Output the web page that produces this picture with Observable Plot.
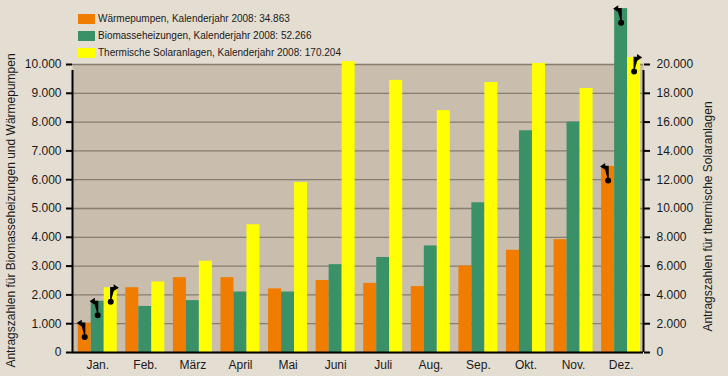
<!DOCTYPE html>
<html><head><meta charset="utf-8">
<script src="https://cdn.jsdelivr.net/npm/d3@7"></script>
<script src="https://cdn.jsdelivr.net/npm/@observablehq/plot@0.6"></script>
<style>
body{margin:0;background:#e4ddd1;font-family:"Liberation Sans",Arial,sans-serif;}
#wrap{position:relative;width:728px;height:376px;}
#legend{position:absolute;left:78px;top:10px;font-size:10px;color:#1a1a1a;z-index:2;}
.row{display:flex;align-items:center;height:17px;}
.sw{width:17px;height:10px;margin-right:3px;}
svg{display:block;}
</style></head><body><div id="wrap"><div id="legend"></div></div>
<script>
const months = ["Jan.","Feb.","März","April","Mai","Juni","Juli","Aug.","Sep.","Okt.","Nov.","Dez."];
const waermepumpen = [1020,2250,2600,2600,2210,2500,2400,2290,3000,3550,3920,6460];
const biomasse = [1780,1600,1800,2100,2100,3050,3300,3700,5200,7700,8000,11940];
const solar = [4500,4900,6340,8870,11800,20200,18900,16800,18750,20070,18330,20490];
const seriesNames = ["Wärmepumpen, Kalenderjahr 2008: 34.863","Biomasseheizungen, Kalenderjahr 2008: 52.266","Thermische Solaranlagen, Kalenderjahr 2008: 170.204"];
const colors = ["#f07d00","#3b9167","#ffff00"];
const leftTicks = d3.range(0, 10001, 1000);
const rightTicks = d3.range(0, 20001, 2000);
const leftTitle = "Antragszahlen für Biomasseheizungen und Wärmepumpen";
const rightTitle = "Antragszahlen für thermische Solaranlagen";
// markers: month index, series index, arrow direction (-1 left axis, 1 right axis)
const markers = [[0,0,-1],[0,1,-1],[0,2,1],[11,0,-1],[11,1,-1],[11,2,1]];

const fmt = d => d3.format(",")(d).replace(/,/g, ".");
const series = [waermepumpen, biomasse, solar];
const off = 0.12, bw = 0.82/3;
const rows = [];
series.forEach((vals, k) => vals.forEach((v, i) => rows.push({
  i, k, x1: i + off + k*bw, x2: i + off + (k+1)*bw, y: k === 2 ? v/2 : v
})));
const rowAt = (i,k) => rows.find(r => r.i === i && r.k === k);

function marker(dir){
  return {draw(ctx){
    ctx.moveTo(0,14); ctx.lineTo(0,0); ctx.lineTo(dir*4,0);
    ctx.moveTo(dir*7,0); ctx.lineTo(dir*3.5,-2.3); ctx.lineTo(dir*3.5,2.3); ctx.closePath();
    ctx.moveTo(2.4,14); ctx.arc(0,14,2.4,0,2*Math.PI);
  }};
}
const mLeft = markers.filter(m=>m[2]<0).map(([i,k]) => rowAt(i,k));
const mRight = markers.filter(m=>m[2]>0).map(([i,k]) => rowAt(i,k));

const plot = Plot.plot({
  width: 728, height: 376,
  marginLeft: 72, marginRight: 85, marginTop: 64, marginBottom: 24,
  style: {background: "transparent", fontFamily: "'Liberation Sans', Arial, sans-serif", fontSize: "12px", color: "#1a1a1a", overflow: "visible"},
  x: {domain: [0, 12], axis: null},
  y: {domain: [0, 10000], axis: null},
  marks: [
    Plot.frame({fill: "#c9bead", stroke: null}),
    Plot.ruleY(leftTicks, {stroke: "#857d72", strokeWidth: 1.3}),
    Plot.rectY(rows, {x1: "x1", x2: "x2", y: "y", fill: d => colors[d.k]}),
    Plot.ruleY([0], {stroke: "black", strokeWidth: 2}),
    Plot.ruleX([0, 12], {x: d => d, y1: 0, y2: 10000, insetBottom: -6, stroke: "black", strokeWidth: 2}),
    Plot.axisY(leftTicks, {anchor: "left", tickSize: 6, tickPadding: 5, tickFormat: fmt, strokeWidth: 2, stroke: "black", label: null, fontSize: 12}),
    Plot.axisY(rightTicks.map(v => v/2), {anchor: "right", tickSize: 6, tickPadding: 7, tickFormat: d => fmt(d*2), strokeWidth: 2, stroke: "black", label: null, fontSize: 12}),
    Plot.axisX(d3.range(12).map(i => i + 0.53), {anchor: "bottom", tickSize: 0, tickPadding: 8, tickFormat: d => months[Math.floor(d)], label: null, fontSize: 12}),
    Plot.text([leftTitle], {frameAnchor: "left", textAnchor: "middle", rotate: -90, dx: -61, dy: 2, fontSize: 12, fill: "#1a1a1a"}),
    Plot.text([rightTitle], {frameAnchor: "right", textAnchor: "middle", rotate: -90, dx: 65, dy: 8, fontSize: 12, fill: "#1a1a1a"}),
    Plot.dot(mLeft, {x: d => (d.x1 + d.x2)/2, y: "y", symbol: marker(-1), fill: "black", stroke: "black", strokeWidth: 1.2}),
    Plot.dot(mRight, {x: d => (d.x1 + d.x2)/2, y: "y", symbol: marker(1), fill: "black", stroke: "black", strokeWidth: 1.2})
  ]
});
document.getElementById("wrap").appendChild(plot);
const lg = document.getElementById("legend");
seriesNames.forEach((n, k) => {
  const r = document.createElement("div"); r.className = "row";
  const s = document.createElement("div"); s.className = "sw"; s.style.background = colors[k];
  const t = document.createElement("span"); t.textContent = n;
  r.appendChild(s); r.appendChild(t); lg.appendChild(r);
});
</script></body></html>
